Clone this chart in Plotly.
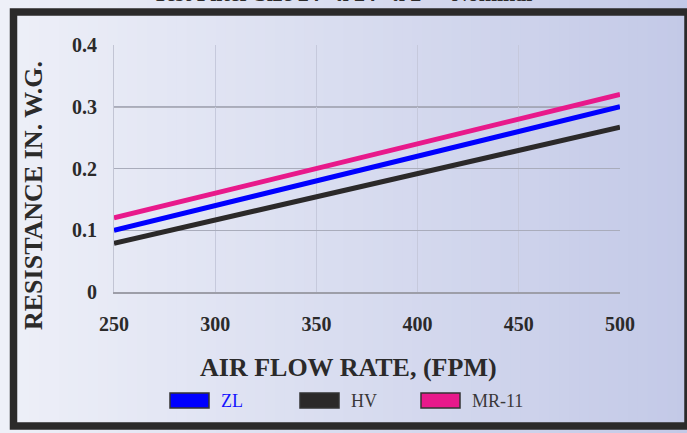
import plotly.graph_objects as go

# ---------------- data ----------------
flow_fpm = [250, 300, 350, 400, 450, 500]
zl = [0.10, 0.14, 0.18, 0.22, 0.26, 0.30]
hv = [0.079, 0.117, 0.154, 0.192, 0.230, 0.267]
mr11 = [0.12, 0.16, 0.20, 0.24, 0.28, 0.32]
series_names = ["ZL", "HV", "MR-11"]
series_values = [zl, hv, mr11]
series_colors = ["#0000ff", "#2b2929", "#e8198b"]
legend_text_colors = ["#1414ff", "#3a3838", "#3a3838"]
x_ticks = [250, 300, 350, 400, 450, 500]
y_ticks = [0, 0.1, 0.2, 0.3, 0.4]
y_ticktext = ["0", "0.1", "0.2", "0.3", "0.4"]
title_text = 'Test Filter Size 24" x 24" x 2" - Nominal'
x_title = "AIR FLOW RATE, (FPM)"
y_title = "RESISTANCE IN. W.G."

# ---------------- layout geometry ----------------
W, H = 687, 433
PL, PR, PT, PB = 114, 620, 45, 292


def px(x):
    return (x - PL) / (PR - PL)


def py(y):
    return (PB - y) / (PB - PT)


SERIF = "Liberation Serif"

fig = go.Figure()
for name, vals, col in zip(series_names, series_values, series_colors):
    fig.add_trace(go.Scatter(x=flow_fpm, y=vals, mode="lines", name=name,
                             line=dict(color=col, width=5), showlegend=False,
                             hoverinfo="x+y+name"))

shapes = []
# background gradient (left light lavender -> right bluish)
c0 = (238, 240, 248)
c1 = (195, 201, 231)
N = 70
step = W / N
for i in range(N):
    t = (i + 0.5) / N
    c = tuple(round(c0[k] + (c1[k] - c0[k]) * t) for k in range(3))
    shapes.append(dict(type="rect", xref="paper", yref="paper",
                       x0=px(i * step), x1=px((i + 1) * step + 1),
                       y0=py(H + 2), y1=py(-2),
                       fillcolor="rgb(%d,%d,%d)" % c, line=dict(width=0),
                       layer="below"))
# darker 0.3 gridline
shapes.append(dict(type="line", xref="paper", yref="y", x0=0, x1=1,
                   y0=0.3, y1=0.3, line=dict(color="#7c7c86", width=1.5),
                   layer="between"))
# outer dark frame
shapes.append(dict(type="rect", xref="paper", yref="paper",
                   x0=px(13.5), x1=px(688), y0=py(426), y1=py(12),
                   line=dict(color="#2b2a2a", width=7.5),
                   fillcolor="rgba(0,0,0,0)", layer="above"))

annotations = []
# legend (boxes + labels)
box_x = [170, 300, 421]
for name, col, tcol, bx in zip(series_names, series_colors, legend_text_colors, box_x):
    shapes.append(dict(type="rect", xref="paper", yref="paper",
                       x0=px(bx), x1=px(bx + 39), y0=py(408), y1=py(393),
                       fillcolor=col, line=dict(color="#333333", width=1.5),
                       layer="above"))
    annotations.append(dict(text=name, xref="paper", yref="paper",
                            x=px(bx + 49), y=py(401), xanchor="left",
                            yanchor="middle", showarrow=False,
                            font=dict(family=SERIF, size=18, color=tcol)))

# titles
annotations.append(dict(text=x_title, xref="paper", yref="paper",
                        x=px(348), y=py(367), xanchor="center", yanchor="middle",
                        showarrow=False,
                        font=dict(family=SERIF, size=26, color="#2b2a2a", weight="bold")))
annotations.append(dict(text=y_title, xref="paper", yref="paper",
                        x=px(33), y=py(196), xanchor="center", yanchor="middle",
                        textangle=-90, showarrow=False,
                        font=dict(family=SERIF, size=26, color="#2b2a2a", weight="bold")))
annotations.append(dict(text=title_text, xref="paper", yref="paper",
                        x=px(342), y=py(-6), xanchor="center", yanchor="middle",
                        showarrow=False,
                        font=dict(family=SERIF, size=22, color="#2b2a2a", weight="bold")))

fig.update_layout(
    width=W, height=H,
    margin=dict(l=PL, r=W - PR, t=PT, b=H - PB, pad=0),
    paper_bgcolor="rgb(238,240,248)",
    plot_bgcolor="rgba(0,0,0,0)",
    shapes=shapes,
    annotations=annotations,
    showlegend=False,
    xaxis=dict(range=[250, 500], tickvals=x_ticks, ticks="",
               showgrid=True, gridcolor="#c6c9dc", gridwidth=1,
               showline=True, linecolor="#9d9ea8", linewidth=2,
               zeroline=False, ticklabelstandoff=13,
               tickfont=dict(family=SERIF, size=20, color="#2b2a2a", weight="bold")),
    yaxis=dict(range=[0, 0.4], tickvals=y_ticks, ticktext=y_ticktext, ticks="",
               showgrid=True, gridcolor="#a9acbb", gridwidth=1,
               showline=True, linecolor="#c2c5d4", linewidth=1,
               zeroline=False, ticklabelstandoff=12,
               tickfont=dict(family=SERIF, size=20, color="#2b2a2a", weight="bold")),
)

fig.write_html(
    "out.html",
    config={"displayModeBar": False},
    post_script="document.body.style.margin='0';document.body.style.overflow='hidden';",
)
